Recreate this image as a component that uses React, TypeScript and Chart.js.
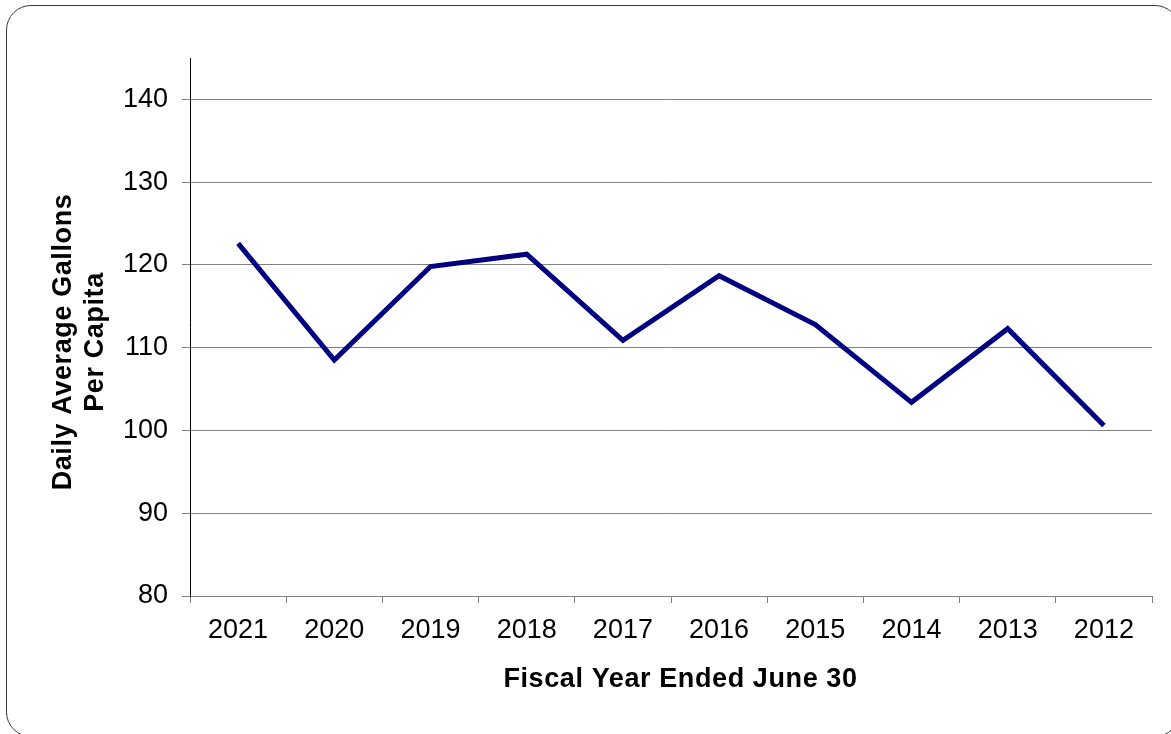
import React, { useEffect, useRef } from "react";
import { Chart, registerables } from "chart.js";

Chart.register(...registerables);

const fiscalYears = ["2021", "2020", "2019", "2018", "2017", "2016", "2015", "2014", "2013", "2012"];
const gallonsPerCapita = [122.6, 108.5, 119.8, 121.3, 110.9, 118.7, 112.8, 103.4, 112.3, 100.6];
const yMin = 80;
const yMax = 145;
const yStep = 10;
const yTitleLines = ["Daily Average Gallons", "Per Capita"];
const xTitle = "Fiscal Year Ended June 30";

const FONT = '"Liberation Sans", Arial, sans-serif';

const axisTitlesPlugin = {
  id: "axisTitles",
  afterDraw(chart: any) {
    const { ctx, chartArea } = chart;
    ctx.save();
    ctx.fillStyle = "#000";
    ctx.font = `bold 27px ${FONT}`;
    ctx.textAlign = "center";
    ctx.textBaseline = "middle";
    try { (ctx as any).letterSpacing = "0.6px"; } catch (e) {}
    ctx.fillText(xTitle, (chartArea.left + chartArea.right) / 2 + 9.5, chartArea.bottom + 84);
    const cy = (chartArea.top + chartArea.bottom) / 2 + 15;
    const xs = [chartArea.left - 126, chartArea.left - 94];
    yTitleLines.forEach((line, i) => {
      ctx.save();
      ctx.translate(xs[i], cy);
      ctx.rotate(-Math.PI / 2);
      ctx.fillText(line, 0, 0);
      ctx.restore();
    });
    ctx.restore();
  },
};

export default function App() {
  const canvasRef = useRef<HTMLCanvasElement | null>(null);

  useEffect(() => {
    if (!canvasRef.current) return;
    const chart = new Chart(canvasRef.current, {
      type: "line",
      data: {
        labels: fiscalYears,
        datasets: [
          {
            data: gallonsPerCapita,
            borderColor: "#000080",
            backgroundColor: "#000080",
            borderWidth: 5,
            pointRadius: 0,
            tension: 0,
            fill: false,
          },
        ],
      },
      options: {
        animation: false,
        responsive: false,
        maintainAspectRatio: false,
        layout: { padding: { top: 58, right: 19, left: 0, bottom: 0 } },
        plugins: {
          legend: { display: false },
          tooltip: { enabled: false },
        },
        scales: {
          x: {
            type: "category",
            offset: true,
            grid: {
              offset: true,
              drawOnChartArea: false,
              drawTicks: true,
              tickLength: 7,
              color: "#808080",
              lineWidth: 1,
            },
            border: { display: true, color: "#808080", width: 1 },
            ticks: {
              color: "#000",
              font: { family: FONT, size: 27 },
              padding: 11.5,
              maxRotation: 0,
              autoSkip: false,
            },
            afterFit: (scale: any) => {
              scale.height = 138;
            },
          },
          y: {
            type: "linear",
            min: yMin,
            max: yMax,
            grid: {
              drawOnChartArea: true,
              drawTicks: true,
              tickLength: 8,
              color: "#808080",
              lineWidth: 1,
            },
            border: { display: true, color: "#000", width: 1 },
            ticks: {
              stepSize: yStep,
              includeBounds: false,
              color: "#000",
              font: { family: FONT, size: 27 },
              padding: 14,
            },
            afterFit: (scale: any) => {
              scale.width = 190;
            },
          },
        },
      },
      plugins: [axisTitlesPlugin],
    });
    return () => chart.destroy();
  }, []);

  return (
    <div
      style={{
        position: "fixed",
        left: 0,
        top: 0,
        width: 1171,
        height: 734,
        overflow: "hidden",
        background: "#fff",
      }}
    >
      <div
        style={{
          position: "absolute",
          left: 6,
          top: 5,
          width: 1174,
          height: 732,
          border: "1px solid #3a3a3a",
          borderRadius: 25,
          boxSizing: "border-box",
        }}
      />
      <canvas
        ref={canvasRef}
        width={1171}
        height={734}
        style={{ position: "absolute", left: 0, top: 0, width: 1171, height: 734 }}
      />
    </div>
  );
}
